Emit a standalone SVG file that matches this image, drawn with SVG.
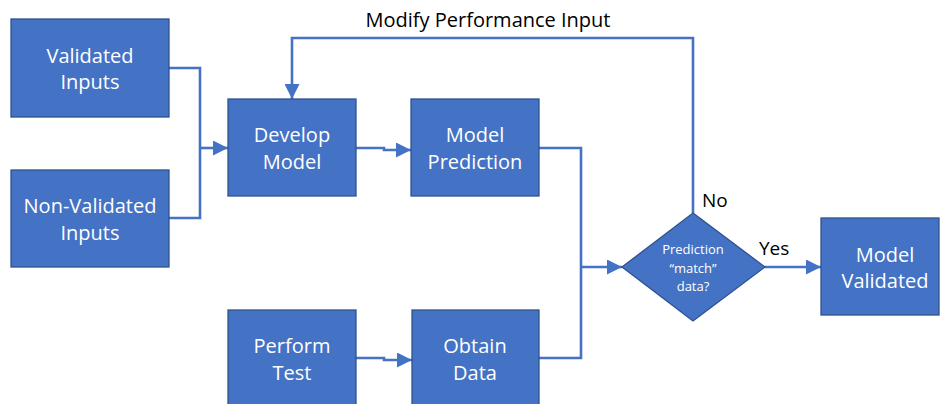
<svg xmlns="http://www.w3.org/2000/svg" width="940" height="404" viewBox="0 0 940 404">
  <defs>
    <style>
      .box { fill: #4472C4; stroke: #2F528F; stroke-width: 1.3; }
      .lbl { font-family: "Open Sans", "Liberation Sans", sans-serif; font-size: 20px; fill: #FFFFFF; text-anchor: middle; }
      .small { font-family: "Open Sans", "Liberation Sans", sans-serif; font-size: 13px; fill: #FFFFFF; text-anchor: middle; }
      .note { font-family: "Open Sans", "Liberation Sans", sans-serif; font-size: 19px; fill: #000000; }
      .title { font-size: 20px; }
      .wire { fill: none; stroke: #4472C4; stroke-width: 2.6; }
    </style>
    <marker id="arrow" markerUnits="userSpaceOnUse" markerWidth="15" markerHeight="15" viewBox="0 0 15 15" refX="15" refY="7.5" orient="auto">
      <path d="M0,0 L15,7.5 L0,15 Z" fill="#4472C4"/>
    </marker>
  </defs>

  <rect width="940" height="404" fill="#FFFFFF"/>

  <!-- connectors -->
  <g id="connectors">
    <path class="wire" d="M169,68 H200 V218 H169"/>
    <path class="wire" d="M200,148 H228" marker-end="url(#arrow)"/>
    <path class="wire" d="M356,148 H384 V150 H411" marker-end="url(#arrow)"/>
    <path class="wire" d="M356,358 H384 V360 H412" marker-end="url(#arrow)"/>
    <path class="wire" d="M539,148 H581 V358 H539"/>
    <path class="wire" d="M581,267 H622" marker-end="url(#arrow)"/>
    <path class="wire" d="M765,267 H821" marker-end="url(#arrow)"/>
    <path class="wire" d="M693,213 V38 H292 V99" marker-end="url(#arrow)"/>
    <text class="note title" x="488" y="27" text-anchor="middle">Modify Performance Input</text>
    <text class="note" x="702" y="207">No</text>
    <text class="note" x="759" y="255">Yes</text>
  </g>

  <g id="validated-inputs">
    <rect class="box" x="11" y="19" width="158" height="98"/>
    <text class="lbl" x="90" y="63">Validated</text>
    <text class="lbl" x="90" y="89">Inputs</text>
  </g>

  <g id="non-validated-inputs">
    <rect class="box" x="11" y="170" width="158" height="97"/>
    <text class="lbl" x="90" y="213">Non-Validated</text>
    <text class="lbl" x="90" y="240">Inputs</text>
  </g>

  <g id="develop-model">
    <rect class="box" x="228" y="99" width="128" height="97"/>
    <text class="lbl" x="292" y="142">Develop</text>
    <text class="lbl" x="292" y="169">Model</text>
  </g>

  <g id="model-prediction">
    <rect class="box" x="411" y="99" width="128" height="97"/>
    <text class="lbl" x="475" y="142">Model</text>
    <text class="lbl" x="475" y="169">Prediction</text>
  </g>

  <g id="perform-test">
    <rect class="box" x="228" y="310" width="128" height="97"/>
    <text class="lbl" x="292" y="353">Perform</text>
    <text class="lbl" x="292" y="380">Test</text>
  </g>

  <g id="obtain-data">
    <rect class="box" x="412" y="310" width="127" height="97"/>
    <text class="lbl" x="475" y="353">Obtain</text>
    <text class="lbl" x="475" y="380">Data</text>
  </g>

  <g id="decision">
    <polygon class="box" points="693,213 765,267 693,321 622,267"/>
    <text class="small" x="693" y="254">Prediction</text>
    <text class="small" x="693" y="273">“match”</text>
    <text class="small" x="693" y="291">data?</text>
  </g>

  <g id="model-validated">
    <rect class="box" x="821" y="218" width="118" height="97"/>
    <text class="lbl" x="885" y="262">Model</text>
    <text class="lbl" x="885" y="288">Validated</text>
  </g>
</svg>
